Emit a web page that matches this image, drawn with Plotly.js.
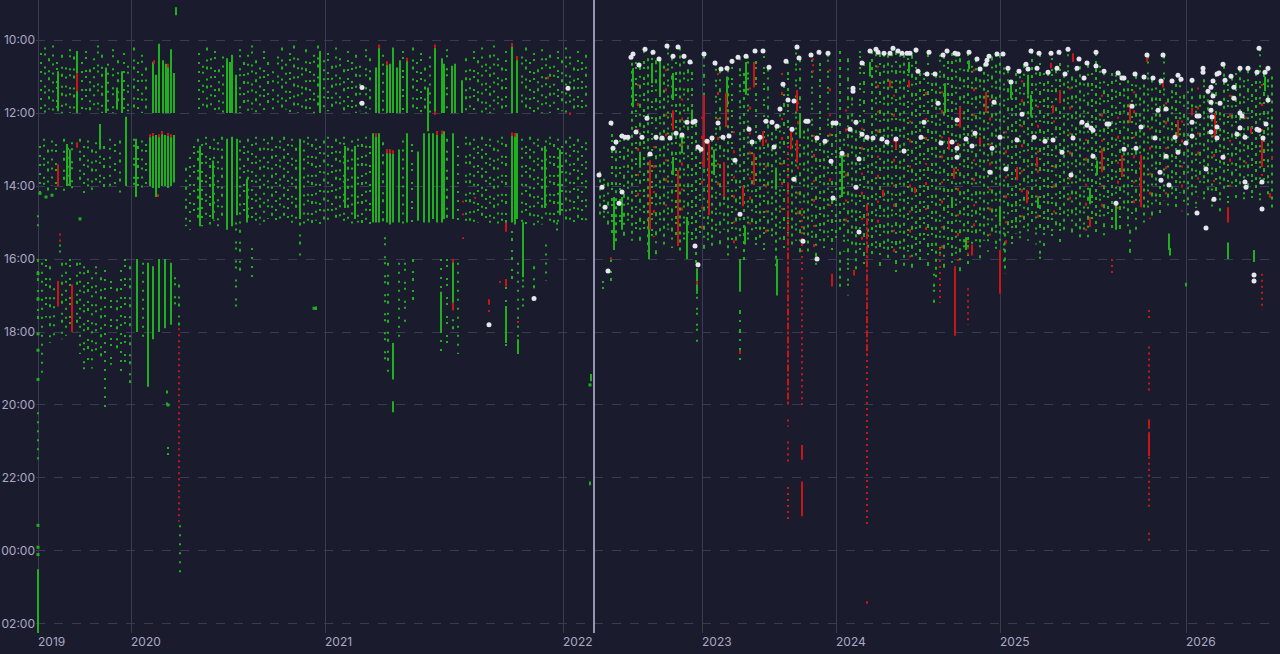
<!DOCTYPE html>
<html><head><meta charset="utf-8">
<script src="https://cdn.plot.ly/plotly-3.0.1.min.js"></script>
<style>html,body{margin:0;padding:0;background:#1b1b2e;}#chart{width:1280px;height:654px;}</style>
</head><body><div id="chart"></div>
<script>
// Session index ticks (year starts) and time-of-day ticks (hours, >24 = after midnight)
const yearTicks = [0, 93, 287, 525, 664, 798, 962, 1148];
const yearLabels = ['2019','2020','2021','2022','2023','2024','2025','2026'];
const timeTicks = [10,12,14,16,18,20,22,24,26];
const timeLabels = ['10:00','12:00','14:00','16:00','18:00','20:00','22:00','00:00','02:00'];
const markerSession = 556;

// [session, startHour, endHour] : sparse trade columns (green)
const leftMorning = [[3,10.35,11.95],[7,10.2,12],[11,10.5,11.9],[15,10.15,12],[19,10.6,11.95],[24,10.4,12],[28,10.75,11.9],[32,10.25,12],[36,10.45,11.95],[44,10.6,12],[48,10.3,11.9],[52,10.8,12],[56,10.5,11.95],[60,10.15,11.9],[64,10.4,12],[70,10.65,11.95],[75,10.25,12],[80,10.55,11.9],[86,10.35,12],[90,10.7,11.95],[96,10.2,12],[100,10.6,11.9],[104,10.4,12],[108,10.75,11.95],
[161,10.35,12],[165,10.7,11.9],[169,10.2,12],[173,10.5,11.95],[177,10.3,12],[181,10.8,11.9],[185,10.45,12],[202,10.25,12],[206,10.6,11.95],[210,10.4,12],[214,10.15,11.9],[218,10.55,12],[222,10.75,11.95],[226,10.3,12],[230,10.6,11.9],[235,10.85,12],[240,10.45,11.95],[244,10.2,12],[248,10.65,11.9],[252,10.35,12],[256,10.15,11.95],[260,10.5,12],[264,10.75,11.9],[268,10.25,12],[272,10.6,11.95],[276,10.4,12],[280,10.15,11.9],[286,10.55,12],[290,10.35,11.95],[294,10.7,12],[298,10.2,11.9],[302,10.5,12],[306,10.8,11.95],[310,10.3,12],[314,10.6,11.9],[318,10.4,12],[322,10.7,11.95],[328,10.25,12],[332,10.5,11.9],[345,10.4,12],[365,10.3,11.95],[375,10.2,12],[379,10.6,11.9],[383,10.35,12],[387,10.75,11.95],[392,10.45,12],[409,10.25,11.9],[428,10.5,12],[432,10.8,11.95],[436,10.3,12],[440,10.55,11.9],[444,10.2,12],[448,10.65,11.95],[452,10.4,12],[456,10.15,11.9],[460,10.5,12],[464,10.75,11.95],[468,10.3,12],[484,10.45,11.9],[488,10.2,12],[492,10.6,11.95],[496,10.35,12],[500,10.8,11.9],[504,10.25,12],[508,10.5,11.95],[512,10.4,12],[516,10.7,11.9],[520,10.3,12],[524,10.55,11.95],[528,10.2,12],[532,10.45,11.9],[536,10.75,12],[540,10.3,11.95],[544,10.6,12],[548,10.4,11.9]];

const leftAfternoon = [[2,12.9,14.2],[6,12.7,14.1],[10,13,14.15],[14,12.75,14],[18,12.85,14.1],[26,12.7,14.2],[30,12.95,14.05],[34,12.8,14.1],[42,12.7,14],[46,12.9,14.2],[50,12.75,14.05],[54,13,14.1],[58,12.8,14],[62,12.65,14.15],[66,12.9,14.05],[72,12.7,14.1],[77,12.85,14],[82,12.75,14.2],[88,12.95,14.05],[96,12.7,14.1],[100,12.9,14],[104,12.75,14.2],[108,12.85,14.05],
[148,13.5,15.1],[152,13.2,15.2],[156,12.9,14.95],[160,12.7,15],[164,12.85,15.1],[168,12.65,14.9],[172,12.9,15.05],[176,12.7,14.95],[180,12.8,15.1],[184,12.65,15],[202,12.75,15.05],[206,12.9,14.9],[210,12.7,15.1],[214,12.85,15],[218,12.65,14.95],[222,12.95,15.05],[226,12.7,15.1],[230,12.8,14.9],[234,12.65,15],[238,12.9,15.1],[242,12.75,14.95],[246,12.65,15.05],[250,12.85,15],[254,12.7,15.1],[258,12.95,14.9],[266,12.75,15.05],[270,12.65,15],[274,12.85,15.1],[278,12.7,14.95],[282,12.9,15.05],[286,12.75,15],
[290,12.65,15.1],[294,12.9,14.95],[298,12.7,15.05],[302,12.8,15],[306,12.65,15.1],[310,12.95,14.9],[314,12.75,15.05],[320,12.7,15],[324,12.85,15.1],[328,12.65,14.95],[332,12.9,15.05],[345,12.8,15],[365,12.75,15.1],[374,12.85,15.05],[409,12.7,15],[420,12.9,15.1],[428,12.65,15.05],[432,12.8,14.95],[436,12.7,15.1],[440,12.9,15],[444,12.65,15.05],[448,12.85,14.9],[452,12.7,15.1],[456,12.95,15],[460,12.75,15.05],[464,12.65,14.95],[468,12.85,15.1],[484,12.7,15],[488,12.9,15.05],[492,12.65,14.9],[496,12.8,15.1],[500,12.7,15],[504,12.95,15.05],[508,12.75,14.95],[512,12.65,15.1],[516,12.85,15],[520,12.7,15.05],[524,12.9,14.9],[528,12.75,15.1],[532,12.65,15],[536,12.85,15.05],[540,12.7,14.95],[544,12.9,15.1],[548,12.8,15]];

const leftEvening = [[0,16,17.7],[4,16.1,19.2],[8,16,17.6],[12,16.2,18.3],[16,16.8,18.1],[22,15.6,16],[24,16.1,18.2],[28,16.1,18.1],[32,16,17.9],[39,16.1,18],[42,16.1,18.6],[46,16.2,19.1],[50,16.3,18.8],[54,16.5,19],[58,16.2,18.5],[63,16.5,18.8],[67,16.3,20.1],[73,16.6,18.9],[79,16.8,18.5],[83,16.3,19.1],[87,16,19],[92,16.2,19.4],[105,16.1,18.3],[137,16.5,17.4],[141,16.7,17.9],[0,20.2,21.5],[130,21.15,21.65],[129,19.6,20.05],[142,23.3,24.75],
[347,15.4,18.9],[350,16.1,19.2],[361,16.1,18.2],[367,16.1,17.8],[375,16,17.3],[403,16,18.6],[409,16,18.4],[415,16.8,18],[420,16.1,18.6],[468,16.6,18.6],[474,14.9,16.6],[480,16.1,18.6],[485,15,17.6],[496,16.2,17.1],[508,15.6,16.6],[519,15,15.4],[202,15.2,16.5],[214,15.7,16.6],[198,15,17.4],[262,15,15.9],[0,14.8,15.1],[565,16.6,16.9],[573,16,16.7]];

// [session, startHour, endHour] : dense trade runs (green, solid)
const greenBars = [[20,10.85,11.95],[39,10.3,12],[68,10.75,12],[79,11.3,11.9],[84,10.85,12],[115,10.6,12],[118,10.95,12],[121,10.1,12],[125,10.55,12],[128,10.65,12],[130,10.7,12],[133,10.25,12],[136,10.9,12],
[112,12.6,14],[115,12.55,14.05],[118,12.6,14.3],[121,12.6,14.05],[124,12.5,14],[127,12.6,14],[130,12.55,14.05],[133,12.6,14],[136,12.6,13.9],[98,12.7,14.3],[88,12.1,14],[62,12.3,13],[29,12.85,14],[32,13,14],
[162,12.9,15.1],[175,13.3,14.9],[189,12.7,15.2],[194,12.65,15.1],[199,12.7,14.8],[209,13.8,15],[189,10.5,12],[192,10.6,12],[194,10.4,12],[198,10.95,12],[282,10.3,12],[262,12.7,14.9],[317,12.9,14.9],[307,12.9,14.6],
[338,10.75,12],[341,10.15,12],[349,10.6,12],[352,10.65,12],[355,10.2,12],[359,10.75,12],[362,10.55,12],[369,10.5,12],[397,10.15,12],[404,10.5,12],[406,10.65,12],[414,10.7,12],[417,10.65,12],[424,11.1,12],[474,10.1,12],[479,10.45,12],[390,11.3,12.5],
[335,12.55,15],[338,12.55,15],[341,12.55,15],[349,13,15],[352,13,15.05],[355,13.05,15],[361,13,15],[369,12.55,15],[380,13.05,14.95],[386,12.55,15],[391,12.55,15],[395,12.55,14.9],[399,12.5,15],[404,12.5,15],[406,12.5,14.9],[415,12.55,14.9],[474,12.55,15],[477,12.55,15.05],[479,12.55,14.9],[507,12.9,14.6],[522,13,14.8],
[99,16,18],[110,16.1,19.5],[115,16.2,18.2],[121,16,18],[127,16,17.9],[133,16.1,17.8],[355,18.3,19.3],[355,19.9,20.2],[403,16.9,18],[415,16,17.2],[485,15,16.5],[468,17.3,18.3],[480,18.2,18.6],[0,24.5,26.25],[138,9.1,9.32],[553,19.15,19.35],[552,22.1,22.2],[278,17.3,17.4],
[576,14.3,15.75],[584,14.3,15.2],[611,14.85,16],[622,10.55,11.56],[635,10.9,11.64],[635,13.2,13.7],[649,14.85,16],[689,11,11.84],[708,10.6,11.5],[762,12,12.6],[804,13.1,14.3],[832,10.6,11],[676,13,13.7],[654,11.9,12.2],[614,10.63,11.18],[595,10.77,11.84],[602,13.1,13.5],[644,12.65,13.1],[707,15.1,15.6],[738,13.5,14.1],[659,16.25,16.9],[702,16,16.9],[739,16,17],
[871,10.6,10.9],[907,11.18,12],[931,10.55,10.8],[973,11.2,11.6],[990,10.95,11.5],[993,11.5,12.1],[1052,14.05,14.5],[1059,13.3,13.7],[1078,14.5,15.2],[1227,11,11.4],[1132,15.7,15.9],[914,14.3,14.6],[1000,14.3,14.6],[962,14.55,15],[928,15.4,15.75],[1131,15.3,15.75],[1190,15.55,16],[1216,15.75,16.08],[1148,16.65,16.75]];

// right-hand period columns (green)
const rightCols = [[562,13.6,14.9],[566,13.8,15],[570,13.9,15.2],[574,12.3,15.3],[578,12.8,15.6],[582,12.6,15.2],[586,12.65,15.4],[590,12.7,15.1],[594,10.4,15.5],[598,10.6,15.3],[602,10.7,15.6],[606,10.3,15.2],[610,10.5,15.8],[614,10.35,15.4],[618,10.55,15.9],[622,10.5,15.3],[626,10.7,15.6],[630,10.2,15.2],[634,10.45,15.7],[638,10.6,15.4],[642,10.2,15.8],[646,10.45,15.5],[650,10.8,15.3],[654,10.6,15.6],[658,12.3,16.2],[662,12.9,15.4],[666,10.4,15.8],[670,12.8,15.5],[674,12.7,15.7],[678,10.65,15.3],[682,10.8,15.6],[686,12.7,15.2],[690,10.8,15.9],[694,10.6,15.5],[698,13.3,15.8],[702,10.5,15.4],[706,10.9,16.1],[710,10.45,15.6],[714,12.8,15.3],[718,10.3,15.7],[722,12.7,15.5],[726,10.3,15.9],[730,10.75,15.4],[734,12.25,15.6],[738,12.4,16.2],[742,11.9,15.5],[746,11.2,15.8],[750,10.6,15.3],[754,12.45,15.7],[758,10.2,15.5],[762,10.5,15.9],[766,12.2,15.5],[770,12.2,15.8],[774,10.4,15.6],[778,12.7,16.3],[782,10.35,15.5],[786,12.8,15.7],[790,10.4,15.4],[794,12.3,15.9],[798,12.3,15.6],
[802,10.3,15.3],[806,12.7,15.8],[810,10.5,16.1],[814,11.3,15.6],[818,12.25,16.3],[822,10.3,15.9],[826,10.6,16.2],[830,12.7,15.7],[834,10.3,16],[838,10.25,15.8],[842,10.35,16.3],[846,10.4,15.9],[850,10.4,16.1],[854,10.25,15.7],[858,10.3,16.4],[862,10.4,15.9],[866,10.4,16.2],[870,10.35,15.8],[874,10.4,16.3],[878,10.3,15.9],[882,10.9,16.1],[886,10.9,15.7],[890,10.35,16.2],[894,10.9,15.9],[898,10.95,16.5],[902,10.4,16],[906,10.4,16.3],[910,10.3,15.8],[914,10.35,16.1],[918,10.4,15.9],[922,10.5,16.4],[926,10.8,15.7],[930,10.35,16.2],[934,10.7,15.9],[938,10.5,15.6],[942,10.8,16],[946,10.65,15.5],[950,10.5,15.8],[954,10.45,15.4],[958,10.4,15.9],
[962,10.4,15.5],[966,10.75,16.1],[970,10.8,15.4],[974,11.15,15.7],[978,10.9,15.3],[982,10.85,15.6],[986,10.65,15.2],[990,10.8,15.5],[994,10.3,15.1],[998,10.75,15.6],[1002,10.35,15.3],[1006,10.9,15.7],[1010,10.9,15.2],[1014,10.35,15.5],[1018,10.8,15.1],[1022,10.35,15.6],[1026,10.95,15.3],[1030,10.25,15],[1034,11,15.4],[1038,10.8,15.1],[1042,10.5,15.5],[1046,11.05,15.2],[1050,10.65,15.4],[1054,10.9,14.9],[1058,10.35,15.3],[1062,10.7,15],[1066,10.85,15.4],[1070,11.2,14.8],[1074,10.9,15.2],[1078,10.95,14.9],[1082,10.9,15.3],[1086,11.05,14.7],[1090,11.1,15.1],[1094,11.2,14.8],[1098,10.95,15.2],[1102,11.3,14.6],[1106,11,15],[1110,10.45,14.7],[1114,11.05,14.9],[1118,11.3,14.5],[1122,11.15,14.8],[1126,10.45,14.4],[1130,11.6,14.7],[1134,11.1,14.3],[1138,11.2,14.6],[1142,11.1,14.2],[1146,11.5,14.5],
[1150,11.4,14.8],[1154,11.1,14.3],[1158,11.8,14.6],[1162,11.5,14.1],[1166,10.8,14.5],[1170,11.4,14.2],[1174,11.3,14.6],[1178,10.9,14.3],[1182,11.7,14.7],[1186,10.7,14.2],[1190,11.2,14.5],[1194,11,14.1],[1198,10.9,14.4],[1202,10.8,14],[1206,11.1,14.6],[1210,10.8,14.2],[1214,11.2,14.5],[1218,10.9,14.1],[1222,10.25,14.4],[1226,10.9,14],[1230,10.8,14.3],[1234,11,14.6],
[659,16.9,18.3],[702,17.4,18.85],[896,16.4,17.2],[967,15.3,16.4],[978,14.5,15.1],[1092,15.2,15.9],[1002,15.5,16.2],[802,15.8,16.8],[810,16.1,17]];

// [session, startHour, endHour] : losing trades (red)
const redDotted = [[141,17.9,23.2],[22,15.3,15.55],[750,20.4,20.6],[750,21,21.6],[750,22.25,23.2],[764,16.5,20],[829,18.6,23.35],[902,15.7,17.2],[1111,17.4,17.7],[1111,18.4,19.7],[1111,20.6,22.9],[1111,23.5,23.8],[930,15.5,15.95],[930,16.8,17.8],[1074,16,16.4],[1224,16.4,17.4],[775,10.5,10.9],[750,12.9,13.9],[764,14.6,16.4]];

// scattered losing trades inside the busy right-hand period (red, sparse)
const redSparse = [[600,11.2,14.6],[616,12.9,15.4],[628,10.8,14.9],[644,11.6,15.2],[664,12.1,15.5],[680,10.9,14.2],[696,12.5,15.6],[712,11.3,15.1],[728,12.2,15.3],[744,10.9,14.8],[760,11.7,15.4],[776,12.6,15.9],[792,10.8,14.7],[808,11.9,15.5],[824,12.4,16],[840,10.7,15.2],[856,11.5,15.8],[872,12.2,16.1],[888,10.9,15.3],[904,11.4,15.9],[920,12.3,16.2],[936,10.8,15.4],[952,11.6,15.7],[968,12.5,16],[984,11.1,15.1],[1000,11.8,15.4],[1016,12.2,15.2],[1032,11.3,14.9],[1048,12.7,15.3],[1064,11.5,14.8],[1080,12.1,15],[1096,11.4,14.6],[1112,12.4,14.9],[1128,11.7,14.5],[1144,12.2,14.7],[1160,11.3,14.3],[1176,12.6,14.6],[1192,11.5,14.2],[1208,12.1,14.5],[1224,11.2,14.1]];

const redBars = [[20,13.4,14],[39,10.9,11.4],[39,12.8,12.95],[112,12.58,12.66],[115,12.55,12.63],[121,12.58,12.66],[124,12.5,12.58],[130,12.55,12.63],[133,12.58,12.66],[116,10.55,10.65],[130,10.65,10.75],[120,14.22,14.3],[20,16.6,17.3],[34,16.7,18],
[341,10.12,10.22],[349,10.58,10.68],[352,13,13.1],[349,13,13.1],[355,13.02,13.12],[369,10.48,10.58],[397,10.12,10.22],[404,12.48,12.58],[399,12.5,12.6],[474,10.08,10.18],[479,10.45,10.55],[474,12.53,12.63],[477,12.55,12.65],[338,12.55,12.65],[397,11.95,12.05],[510,11,11.07],[532,11.98,12.05],
[415,16,16.1],[415,17.2,17.4],[451,17.1,17.25],[451,17.4,17.45],[462,16.6,16.65],[468,16.55,16.75],[468,15,15.25],[480,17.7,17.75],[425,15.4,15.45],[425,14.4,14.45],[425,14.75,14.8],[437,14.3,14.35],[573,15.95,16.02],
[764,21.1,21.5],[764,22.1,23.05],[917,16.2,18.1],[962,15.75,16.95],[794,16.4,16.75],[816,16.3,16.45],
[666,11.5,13.5],[671,12.74,14.8],[688,11.45,12.38],[686,13.34,14.3],[716,10.6,11.3],[716,13.1,13.97],[705,14,14.55],[635,11.92,12.47],[640,13.56,15.64],[612,13.29,15.2],[725,12.5,12.9],[753,12.5,13],[759,11.37,11.95],[759,12.74,13.37],[659,16.6,16.7],[702,18.5,18.6],
[852,11.1,11.3],[871,11.1,11.3],[845,14.1,14.3],[858,12.74,13],[877,14.03,14.2],[911,12.66,13.01],[916,13.5,13.8],[922,11.83,12.38],[942,12.66,12.88],[948,11.42,12],[979,13.48,13.84],[989,14.1,14.47],[999,13.2,13.48],[1015,11.78,12],[1022,11.37,11.73],[1052,14.85,15.12],[1064,12.96,13.62],[1084,13.15,13.75],[1092,11.73,12.27],[1103,13.15,14.58],[1140,12.19,12.66],[1154,11.86,12.05],[1177,12,12.66],[1190,14.58,15],[1213,12.38,12.55],[1224,12.74,13.48],[1232,14.2,14.33],[1234,13.2,13.26],[1109,10.47,10.6],[1125,11.1,11.3],[1035,10.36,10.6],[1013,10.63,10.77],[1111,20.4,20.6],[1111,20.75,21.4],[829,25.38,25.45],[934,15.6,15.9]];

// long, broken losing runs (red, dashed)
const redDashed = [[750,13.9,20],[829,14.5,18.6]];

// [session, hour] : first trade of a session (white)
const sessionStarts = [[324,11.3],[324,11.73],[530,11.32],[451,17.8],[496,17.08],[570,16.33],
[573,12.27],[575,12.96],[578,12.79],[584,12.63],[587,12.66],[590,12.66],[598,12.52],[604,12.66],[609,12.14],[593,10.47],[595,10.38],[601,10.68],[607,10.25],[612,13.12],[615,10.33],[618,12.66],[621,10.52],[624,12.68],[629,10.16],[632,12.68],[635,10.44],[638,12.55],[640,10.19],[644,12.6],[646,10.44],[649,12.25],[652,10.6],[655,12.25],[657,12.22],[660,12.93],[663,12.99],[666,10.38],[669,12.77],[674,12.68],[677,10.63],[680,12.27],[683,10.79],[685,12.66],[689,10.77],[691,12.63],[694,10.58],[697,13.29],[700,10.47],[702,14.77],[708,10.44],[711,12.44],[714,12.79],[717,10.3],[722,12.66],[725,10.3],[728,12.22],[731,10.74],[734,12.25],[736,12.93],[739,12.36],[742,11.89],[745,11.21],[748,10.58],[750,11.64],[754,12.44],[756,11.67],[756,13.81],[759,10.19],[761,10.49],[765,15.51],[768,12.22],[770,12.22],[773,10.41],[779,12.68],[781,10.33],[787,12.77],[790,10.36],[795,12.27],[798,12.27],[793,13.32],[795,14.33],[804,13.1],[812,12.44],[815,11.32],[815,11.4],[818,12.25],[818,14.03],[821,13.26],[821,15.26],[824,10.63],[824,12.58],[829,12.66],[832,10.3],[835,12.68],[838,10.25],[840,10.33],[657,15.64],[581,14.47],[584,14.16],[567,14.58],[561,13.7],[564,14.03],[660,16.16],[779,16],
[855,10.22],[846,10.36],[852,10.36],[860,10.3],[864,10.36],[869,10.36],[872,10.36],[878,10.27],[891,10.33],[905,10.41],[909,10.3],[917,10.36],[920,10.38],[931,10.33],[939,10.52],[949,10.55],[951,10.44],[959,10.38],[965,10.38],[993,10.3],[1001,10.36],[1013,10.36],[1021,10.33],[1030,10.25],[1041,10.52],[1049,10.63],[1058,10.33],[1058,10.71],[1066,10.85],[1109,10.41],[1125,10.41],[1221,10.22],[880,10.85],[889,10.93],[897,10.93],[942,10.79],[948,10.66],[970,10.77],[981,10.85],[988,10.66],[990,10.79],[999,10.77],[1010,10.88],[1019,10.77],[1027,10.93],[1039,10.77],[1046,11.04],[1080,10.9],[1084,11.04],[1086,11.04],[1097,10.93],[1106,11.01],[1115,11.04],[1123,11.12],[1134,11.12],[1140,10.96],[1143,11.07],[1154,11.1],[1165,10.77],[1165,10.88],[1185,10.66],[1181,10.9],[1179,10.93],[1193,10.99],[1202,10.77],[1210,10.77],[1219,10.88],[1227,10.88],[1230,10.77],[1175,11.12],[1173,11.29],[1170,11.4],[1187,11.1],[1196,11.29],[1196,11.59],[1175,11.53],[1173,11.7],[1182,11.73],[1230,11.64],[1228,12.3],[1173,11.92],[1174,12.11],[1202,12],[1204,12.08],[1179,12.38],[1173,12.52],[1202,12.41],[1219,12.44],[1221,12.47],[1225,12.68],[1207,12.66],[1199,12.58],[1179,12.68],[1185,13.21],[1207,13.89],[1208,14.03],[1224,13.89],[1224,14.63],[1176,14.36],[1168,15.15],[1168,13.53],[1159,14.74],[1161,12.08],[1159,12.08],[1154,12.25],[1154,12.63],[1148,12.82],[1140,13.07],[1137,12.66],[1128,11.89],[1128,13.18],[1131,13.97],[1122,13.62],[1123,13.84],[1120,11.92],[1117,12.68],[1103,12.38],[1098,12.96],[1094,11.81],[1086,12.99],[1078,14.47],[1071,12.3],[1069,12.3],[1055,12.47],[1055,13.18],[1053,12.41],[1049,12.33],[1044,12.25],[1035,12.68],[1033,13.7],[1024,13.07],[1015,12.74],[1007,12.77],[996,12.66],[979,12.74],[984,12.03],[973,11.15],[968,13.53],[962,12.66],[956,11.7],[954,12.96],[952,13.62],[937,12.55],[934,12.9],[928,12.71],[919,13.21],[919,12.96],[914,12.79],[919,12.19],[903,12.82],[900,11.73],[886,12.25],[883,12.66],[866,13.04],[858,12.71],[849,12.79],[844,12.71],[1216,16.44],[1216,16.6]];

// small isolated fills (green)
const greenDots = [[2,14.2],[8,14.3],[14,14.25],[0,16.4],[0,17.1],[0,18.05],[0,18.5],[0,19.3],[0,23.3],[0,23.9],[0,24.1],[130,20.0],[42,14.9],[276,17.35],[552,19.45]];

function segs(list){
  const x=[], y=[];
  list.forEach(function(r){ x.push(r[0], r[0], null); y.push(r[1], r[2], null); });
  return {x:x, y:y};
}
// split a list of columns into n interleaved groups (each drawn with its own dot rhythm)
function groups(list, n){
  const out=[]; for(let k=0;k<n;k++) out.push([]);
  list.forEach(function(r,i){ out[i%n].push(r); });
  return out;
}
const GREEN = '#1fb01f', RED = '#c81616';
const traces = [];
function lineTrace(list, color, dash){
  const s = segs(list);
  traces.push({type:'scatter', mode:'lines', x:s.x, y:s.y, line:{color:color, width:2, dash:dash}, hoverinfo:'skip'});
}
const leftDash = ['2px,7px','2px,4px,2px,11px','3px,9px,2px,5px'];
const rightDash = ['3px,5px','2px,3px,2px,9px','4px,6px,2px,7px','2px,8px,3px,3px'];
groups(leftMorning.concat(leftAfternoon, leftEvening), 3).forEach(function(g,k){ lineTrace(g, GREEN, leftDash[k]); });
groups(rightCols, 4).forEach(function(g,k){ lineTrace(g, GREEN, rightDash[k]); });
lineTrace(greenBars, GREEN, 'solid');
traces.push({type:'scatter', mode:'markers', x:greenDots.map(d=>d[0]), y:greenDots.map(d=>d[1]), marker:{color:GREEN, size:3, symbol:'square'}, hoverinfo:'skip'});
lineTrace(redSparse, RED, '2px,17px,3px,23px');
lineTrace(redDotted, RED, '2px,4px');
lineTrace(redDashed, RED, '7px,2px,3px,2px');
lineTrace(redBars, RED, 'solid');
traces.push({type:'scatter', mode:'markers', x:sessionStarts.map(d=>d[0]), y:sessionStarts.map(d=>d[1]), marker:{color:'#e6e6ee', size:5, symbol:'circle'}, hoverinfo:'skip'});

const layout = {
  width:1280, height:654,
  paper_bgcolor:'#1b1b2e', plot_bgcolor:'#1b1b2e',
  margin:{l:36, r:2, t:0, b:21},
  showlegend:false,
  font:{family:'Inter, Liberation Sans, sans-serif', color:'#a9a9c4', size:12},
  xaxis:{range:[-2,1240], tickvals:yearTicks, ticktext:yearLabels, ticklabelposition:'outside right',
         showgrid:true, gridcolor:'#3a3a54', gridwidth:1, zeroline:false, showline:false, ticks:'',
         tickfont:{color:'#a9a9c4', size:12}, fixedrange:true},
  yaxis:{range:[26.25,8.9], tickvals:timeTicks, ticktext:timeLabels,
         showgrid:true, gridcolor:'#3a3a54', griddash:'dash', gridwidth:1, zeroline:false, showline:false, ticks:'',
         tickfont:{color:'#a9a9c4', size:12}, fixedrange:true},
  shapes:[{type:'line', xref:'x', yref:'paper', x0:markerSession, x1:markerSession, y0:0, y1:1,
           line:{color:'#9494b4', width:2}}]
};
Plotly.newPlot('chart', traces, layout, {displayModeBar:false, staticPlot:true});
</script></body></html>
